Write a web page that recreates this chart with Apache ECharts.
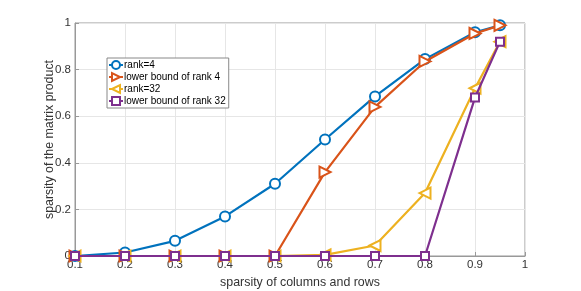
<!DOCTYPE html>
<html><head><meta charset="utf-8">
<script src="https://cdn.jsdelivr.net/npm/echarts@6/dist/echarts.min.js"></script>
<style>html,body{margin:0;padding:0;background:#fff}#c{width:581px;height:291px}</style>
</head><body><div id="c"></div>
<script>
const xs = [0.1,0.2,0.3,0.4,0.5,0.6,0.7,0.8,0.9,0.95];
const rank4 = [0,0.015,0.065,0.17,0.31,0.5,0.685,0.845,0.96,0.99];
const lb4 = [0,0,0,0,0,0.36,0.64,0.835,0.955,0.99];
const rank32 = [0,0,0,0,0,0.005,0.045,0.27,0.72,0.92];
const lb32 = [0,0,0,0,0,0,0,0,0.68,0.92];
const names = ['rank=4','lower bound of rank 4','rank=32','lower bound of rank 32'];
const colors = ['#0072BD','#D95319','#EDB120','#7E2F8E'];
const ys = [rank4, lb4, rank32, lb32];
const syms = ['emptyCircle','emptyTriangle','emptyTriangle','emptyRect'];
const rots = [0,-90,90,0];
const sizes = [10,11,11,8];
const font = 'Liberation Sans, Arial, sans-serif';
const chart = echarts.init(document.getElementById('c'));
chart.setOption({
  animation:false,
  grid:{left:75,right:56,top:23,bottom:35,show:true,borderColor:'#999',borderWidth:1,outerBoundsMode:'none',containLabel:false},
  legend:{orient:'vertical',left:107,top:58,itemWidth:14,itemHeight:10,itemGap:2,
    padding:[2,3,2,1],borderColor:'#888',borderWidth:1,backgroundColor:'#fff',
    textStyle:{fontFamily:font,fontSize:10,color:'#000',padding:[0,0,0,-4]},data:names},
  xAxis:{type:'value',min:0.1,max:1,interval:0.1,
    name:'sparsity of columns and rows',nameLocation:'middle',nameGap:21,nameMoveOverlap:false,
    nameTextStyle:{fontFamily:font,fontSize:12.4,color:'#333'},
    axisLine:{lineStyle:{color:'#999'}},axisTick:{inside:true,length:4,lineStyle:{color:'#999'}},
    axisLabel:{fontFamily:font,fontSize:11.5,color:'#333',margin:3,formatter:v=>String(Math.round(v*10)/10)},
    splitLine:{show:true,lineStyle:{color:'#e6e6e6'}}},
  yAxis:{type:'value',min:0,max:1,interval:0.2,
    name:'sparsity of the matrix product',nameLocation:'middle',nameGap:19,nameMoveOverlap:false,
    nameTextStyle:{fontFamily:font,fontSize:12.4,color:'#333'},
    axisLine:{show:true,lineStyle:{color:'#999'}},axisTick:{show:true,inside:true,length:4,lineStyle:{color:'#999'}},
    axisLabel:{fontFamily:font,fontSize:11.5,color:'#333',margin:4,formatter:v=>String(Math.round(v*10)/10)},
    splitLine:{show:true,lineStyle:{color:'#e6e6e6'}}},
  series: names.map((n,i)=>({
    name:n,type:'line',data:xs.map((x,j)=>[x,ys[i][j]]),
    symbol:syms[i],symbolRotate:rots[i],symbolSize:sizes[i],showAllSymbol:true,
    lineStyle:{color:colors[i],width:2.2},
    itemStyle:{color:colors[i],borderColor:colors[i],borderWidth:2.2},
    z:2+i
  }))
});
</script></body></html>
